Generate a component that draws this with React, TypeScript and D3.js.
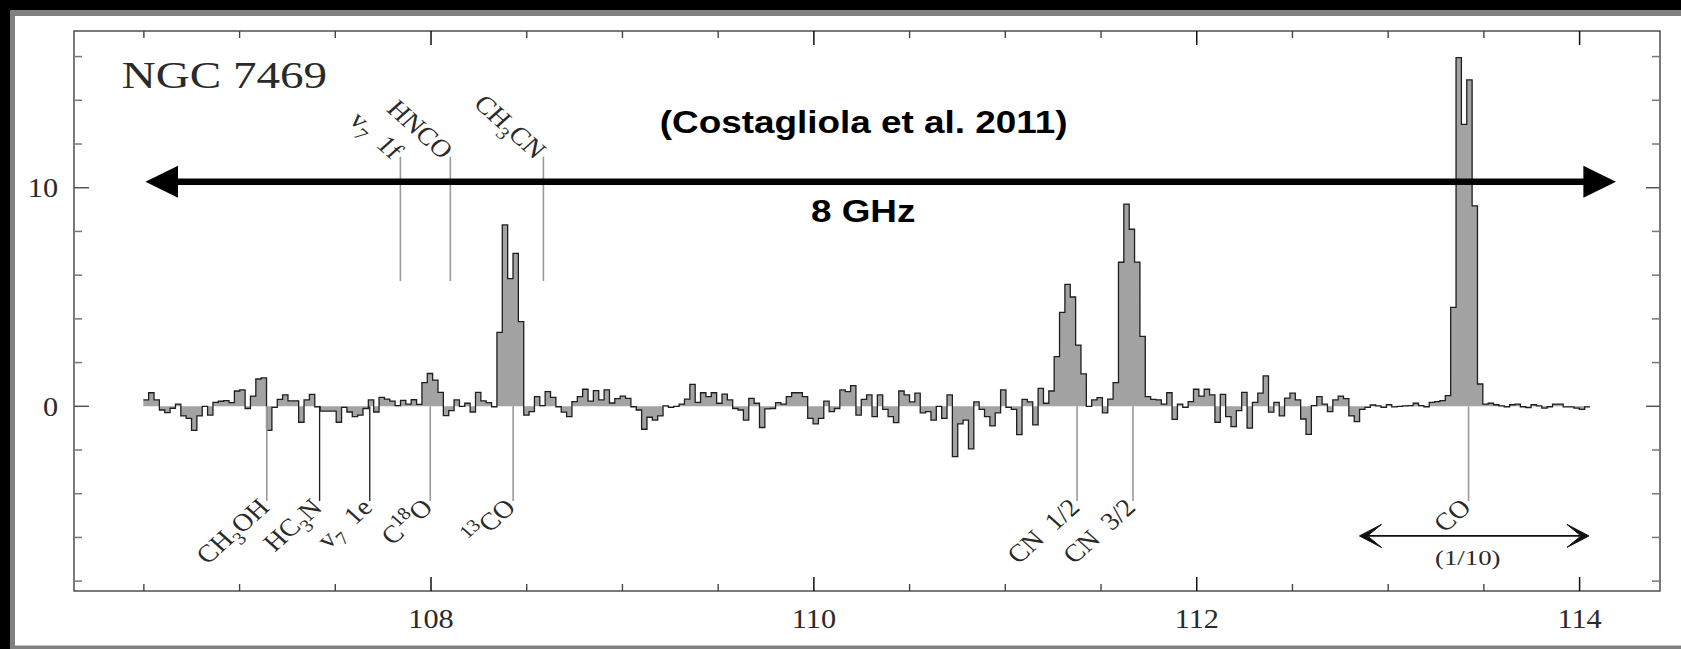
import React from "react";
import * as d3 from "d3";

const WIDTH = 1681;
const HEIGHT = 649;

const FIRST_CHANNEL_GHZ = 106.497;
const CHANNEL_WIDTH_GHZ = 0.02799;
const flux: number[] = [
  0.29, 0.62, 0.29, -0.17, -0.29, -0.09, 0.1, -0.44, -0.55, -1.1,
  -0.44, 0, -0.4, 0.18, 0.23, 0.26, 0.17, 0.7, 0.75, -0.1,
  0.47, 1.25, 1.3, -1.1, -0.05, 0.32, 0.52, 0.25, 0.25, -0.73,
  0.29, 0.55, -0.02, -0.22, -0.22, -0.22, -0.73, -0.05, -0.26, -0.47,
  -0.4, -0.1, 0.29, -0.26, 0.41, 0.33, 0.24, 0.03, 0.27, 0.1,
  0.3, 0.09, 1.08, 1.5, 1.2, 0.64, -0.43, -0.2, 0.29, 0,
  0.14, -0.26, 0.64, 0.25, 0.17, -0.02, 3.38, 8.3, 5.84, 7.0,
  3.87, -0.4, -0.24, 0.44, 0.03, 0.67, 0.41, -0.02, -0.27, -0.47,
  0.21, 0.44, 0.78, 0.24, 0.72,
  0.29, 0.75, 0.15, 0.35, 0.47, 0.36, -0.02, -0.17, -1.05, -0.5,
  -0.63, -0.44, 0.02, -0.05, 0, 0.1, 0.33, 1.0, 0.18, 0.62,
  0.44, 0.62, 0.14, 0.56, 0.29, -0.1, -0.17, -0.63, 0.36, 0.14,
  -0.97, -0.12, -0.1, 0.17, 0.1, 0.44, 0.62, 0.62, 0.44, -0.55,
  -0.8, -0.55, 0.24, -0.24, -0.1, 0.75, 0.67, 0.95, -0.4, 0.32,
  0.52, -0.47, 0.52, -0.14, -0.47, -0.75, 0.7, 0.52, 0.2, 0.6,
  -0.3, -0.24, -0.63, 0, -0.55, 0.52, -2.3, -0.8, -0.63, -1.95,
  0.2, -0.14, -0.47, -0.9, -0.3, 0.75, -0.05, -0.14, -1.3, 0.32,
  0.2, -0.85, 0.82, 0.14, 0.7, 2.27, 4.3, 5.58, 5.0, 2.8,
  1.48, 0, 0.29, 0.4, -0.3, 0.33, 1.08, 6.59, 9.25, 8.1,
  6.6, 3.2,
  0.44, 0.32, 0.29, 0.1, 0.62, -0.6, 0.1, -0.05, 0.21, 0.78,
  0.47, 0.78, 0.52, -0.73, 0.55, -0.47, -0.93, -0.2, 0.64, -1.0,
  0.18, 0.6, 1.39, -0.27, 0.18, -0.44, 0.37, 0.6, 0.29, -0.58,
  -1.28, 0.03, 0.44, 0.1, -0.24, 0.29, 0.47, 0.35, -0.44, -0.7,
  -0.14, -0.05, 0.06, 0.02, -0.05, 0.08, -0.03, 0, 0.02, 0.03,
  0.14, 0.03, -0.02, 0.18, 0.21, 0.26, 0.49, 4.53, 15.95, 12.9,
  14.93, 9.17, 1.02, 0.1, 0.14, 0.07, 0.02, -0.02, 0.07, 0.1,
  -0.02, -0.06, 0.07, 0.02, -0.08, -0.02, 0.1, 0.1, -0.03, -0.03,
  -0.08, -0.14, -0.03,
];

// Axes
const X_DOMAIN = [106.135, 114.42];
const Y_DOMAIN = [-8.45, 17.17];
const xMajorTicks = [108, 110, 112, 114];
const xTickLabels = ["108", "110", "112", "114"];
const xMinorTicks = [106.5, 107, 107.5, 108.5, 109, 109.5, 110.5, 111, 111.5, 112.5, 113, 113.5];
const yMajorTicks = [0, 10];
const yTickLabels = ["0", "10"];
const yMinorTicks = [-8, -6, -4, -2, 2, 4, 6, 8, 12, 14, 16];

// Line identifications
type Part = { t: string; k?: "sub" | "sup" };
const upperLines: { parts: Part[]; freq: number }[] = [
  { parts: [{ t: "v" }, { t: "7", k: "sub" }, { t: "\u00A0\u00A01f" }], freq: 107.84 },
  { parts: [{ t: "HNCO" }], freq: 108.101 },
  { parts: [{ t: "CH" }, { t: "3", k: "sub" }, { t: "CN" }], freq: 108.587 },
];
const UPPER_LINE_RANGE = [11.42, 5.73];
const lowerLines: { parts: Part[]; freq: number; dark?: boolean }[] = [
  { parts: [{ t: "CH" }, { t: "3", k: "sub" }, { t: "OH" }], freq: 107.142 },
  { parts: [{ t: "HC" }, { t: "3", k: "sub" }, { t: "N" }], freq: 107.418, dark: true },
  { parts: [{ t: "v" }, { t: "7", k: "sub" }, { t: "\u00A0\u00A01e" }], freq: 107.68, dark: true },
  { parts: [{ t: "C" }, { t: "18", k: "sup" }, { t: "O" }], freq: 107.996 },
  { parts: [{ t: "13", k: "sup" }, { t: "CO" }], freq: 108.429 },
  { parts: [{ t: "CN\u00A0\u00A01/2" }], freq: 111.375 },
  { parts: [{ t: "CN\u00A0\u00A03/2" }], freq: 111.667 },
  { parts: [{ t: "CO" }], freq: 113.42 },
];
const LOWER_LINE_RANGE = [0, -4.33];

// Annotations
const bandArrow = { from: 106.508, to: 114.19, y: 10.27, label: "8 GHz" };
const scaledArrow = { from: 112.85, to: 114.049, y: -5.93, label: "(1/10)" };
const TITLE = "NGC 7469";
const CITATION = "(Costagliola et al. 2011)";

const SERIF = "'Liberation Serif', 'Times New Roman', serif";
const SANS = "'Liberation Sans', Arial, sans-serif";

function Rich({ parts, fs, anchor }: { parts: Part[]; fs: number; anchor: string }) {
  let shift = 0;
  const spans = parts.map((p, i) => {
    const target = p.k === "sub" ? 0.28 * fs : p.k === "sup" ? -0.4 * fs : 0;
    const dy = target - shift;
    shift = target;
    return (
      <tspan key={i} dy={dy} fontSize={p.k ? fs * 0.72 : fs}>
        {p.t}
      </tspan>
    );
  });
  return (
    <text textAnchor={anchor} fontFamily={SERIF} fontSize={fs} fill="#2a2a2a">
      {spans}
    </text>
  );
}

export default function App() {
  const x = d3.scaleLinear().domain(X_DOMAIN).range([74, 1660]);
  const y = d3.scaleLinear().domain(Y_DOMAIN).range([591, 31]);
  const [x0, x1] = x.range();
  const [yb, yt] = y.range();

  const pts: [number, number][] = flux.map((v, i) => [FIRST_CHANNEL_GHZ + i * CHANNEL_WIDTH_GHZ, v]);
  pts.push([FIRST_CHANNEL_GHZ + flux.length * CHANNEL_WIDTH_GHZ, flux[flux.length - 1]]);

  const area = d3
    .area<[number, number]>()
    .x((d) => x(d[0]))
    .y0(y(0))
    .y1((d) => y(d[1]))
    .curve(d3.curveStepAfter);
  const line = d3
    .line<[number, number]>()
    .x((d) => x(d[0]))
    .y((d) => y(d[1]))
    .curve(d3.curveStepAfter);

  const LBL_FS = 25;
  const LBL_SX = 1.12;

  const bx0 = x(bandArrow.from);
  const bx1 = x(bandArrow.to);
  const by = y(bandArrow.y);
  const sx0 = x(scaledArrow.from);
  const sx1 = x(scaledArrow.to);
  const sy = y(scaledArrow.y);

  return (
    <div style={{ position: "absolute", left: 0, top: 0, width: WIDTH, height: HEIGHT }}>
      <svg width={WIDTH} height={HEIGHT} style={{ display: "block" }}>
        <rect x={0} y={0} width={WIDTH} height={HEIGHT} fill="#000" />
        <rect x={10} y={10} width={WIDTH - 10} height={HEIGHT - 10} fill="#808080" />
        <rect x={15} y={16} width={WIDTH - 15} height={629.5} fill="#fff" />

        {/* spectrum */}
        <path d={area(pts) || ""} fill="#a3a3a3" stroke="none" />
        <path d={line(pts) || ""} fill="none" stroke="#1e1e1e" strokeWidth={1.3} />

        {/* upper line markers */}
        {upperLines.map((l, i) => {
          const lx = x(l.freq);
          const top = y(UPPER_LINE_RANGE[0]);
          return (
            <g key={"u" + i}>
              <line x1={lx} x2={lx} y1={top} y2={y(UPPER_LINE_RANGE[1])} stroke="#9a9a9a" strokeWidth={1.6} />
              <g transform={`translate(${lx - 8.8},${top + 3.7}) scale(${LBL_SX},1) rotate(45)`}>
                <Rich parts={l.parts} fs={LBL_FS} anchor="end" />
              </g>
            </g>
          );
        })}

        {/* lower line markers */}
        {lowerLines.map((l, i) => {
          const lx = x(l.freq);
          const bot = y(LOWER_LINE_RANGE[1]);
          return (
            <g key={"l" + i}>
              <line
                x1={lx}
                x2={lx}
                y1={y(LOWER_LINE_RANGE[0])}
                y2={bot}
                stroke={l.dark ? "#1e1e1e" : "#9a9a9a"}
                strokeWidth={l.dark ? 1.3 : 1.6}
              />
              <g transform={`translate(${lx + 4},${bot + 8}) scale(${LBL_SX},1) rotate(-45)`}>
                <Rich parts={l.parts} fs={LBL_FS} anchor="end" />
              </g>
            </g>
          );
        })}

        {/* frame */}
        <rect x={x0} y={yt} width={x1 - x0} height={yb - yt} fill="none" stroke="#333" strokeWidth={1.3} />

        {/* x ticks */}
        {xMajorTicks.map((t) => (
          <g key={"xm" + t}>
            <line x1={x(t)} x2={x(t)} y1={yb} y2={yb - 14} stroke="#111" strokeWidth={1.5} />
            <line x1={x(t)} x2={x(t)} y1={yt} y2={yt + 14} stroke="#111" strokeWidth={1.5} />
          </g>
        ))}
        {xMinorTicks.map((t) => (
          <g key={"xn" + t}>
            <line x1={x(t)} x2={x(t)} y1={yb} y2={yb - 7} stroke="#444" strokeWidth={1.4} />
            <line x1={x(t)} x2={x(t)} y1={yt} y2={yt + 7} stroke="#444" strokeWidth={1.4} />
          </g>
        ))}
        {xMajorTicks.map((t, i) => (
          <g key={"xl" + t} transform={`translate(${x(t)},628) scale(1.1,1)`}>
            <text textAnchor="middle" fontFamily={SERIF} fontSize={27.5} fill="#2a2a2a">
              {xTickLabels[i]}
            </text>
          </g>
        ))}

        {/* y ticks */}
        {yMajorTicks.map((t) => (
          <g key={"ym" + t}>
            <line x1={x0} x2={x0 + 15} y1={y(t)} y2={y(t)} stroke="#555" strokeWidth={1.5} />
            <line x1={x1} x2={x1 - 14} y1={y(t)} y2={y(t)} stroke="#555" strokeWidth={1.5} />
          </g>
        ))}
        {yMinorTicks.map((t) => (
          <g key={"yn" + t}>
            <line x1={x0} x2={x0 + 8} y1={y(t)} y2={y(t)} stroke="#777" strokeWidth={1.5} />
            <line x1={x1} x2={x1 - 8} y1={y(t)} y2={y(t)} stroke="#777" strokeWidth={1.5} />
          </g>
        ))}
        {yMajorTicks.map((t, i) => (
          <g key={"yl" + t} transform={`translate(58,${y(t) + 9.3}) scale(1.1,1)`}>
            <text textAnchor="end" fontFamily={SERIF} fontSize={27.5} fill="#2a2a2a">
              {yTickLabels[i]}
            </text>
          </g>
        ))}

        {/* title */}
        <g transform={`translate(121.7,88.3) scale(1.24,1)`}>
          <text fontFamily={SERIF} fontSize={38} fill="#2a2a2a">
            {TITLE}
          </text>
        </g>

        {/* 8 GHz band arrow */}
        <line x1={bx0 + 30} x2={bx1 - 30} y1={by} y2={by} stroke="#000" strokeWidth={6.6} />
        <path d={`M${bx0},${by} L${bx0 + 32.6},${by - 16} L${bx0 + 32.6},${by + 16} Z`} fill="#000" />
        <path d={`M${bx1},${by} L${bx1 - 32.6},${by - 16} L${bx1 - 32.6},${by + 16} Z`} fill="#000" />
        <g transform={`translate(${(bx0 + bx1) / 2 - 17.5},221.7) scale(1.19,1)`}>
          <text textAnchor="middle" fontFamily={SANS} fontWeight="bold" fontSize={31} fill="#000">
            {bandArrow.label}
          </text>
        </g>
        <g transform={`translate(863.7,133.3) scale(1.19,1)`}>
          <text textAnchor="middle" fontFamily={SANS} fontWeight="bold" fontSize={31} fill="#000">
            {CITATION}
          </text>
        </g>

        {/* CO scaled-region arrow */}
        <line x1={sx0 + 4} x2={sx1 - 4} y1={sy} y2={sy} stroke="#111" strokeWidth={1.8} />
        <path
          d={`M${sx0},${sy} L${sx0 + 22},${sy - 11.5} L${sx0 + 8},${sy} L${sx0 + 22},${sy + 11.5} Z`}
          fill="#111"
          stroke="#111"
          strokeWidth={1}
          strokeLinejoin="round"
        />
        <path
          d={`M${sx1},${sy} L${sx1 - 22},${sy - 11.5} L${sx1 - 8},${sy} L${sx1 - 22},${sy + 11.5} Z`}
          fill="#111"
          stroke="#111"
          strokeWidth={1}
          strokeLinejoin="round"
        />
        <g transform={`translate(${(sx0 + sx1) / 2 - 6.5},565) scale(1.22,1)`}>
          <text textAnchor="middle" fontFamily={SERIF} fontSize={22} fill="#2a2a2a">
            {scaledArrow.label}
          </text>
        </g>
      </svg>
    </div>
  );
}
